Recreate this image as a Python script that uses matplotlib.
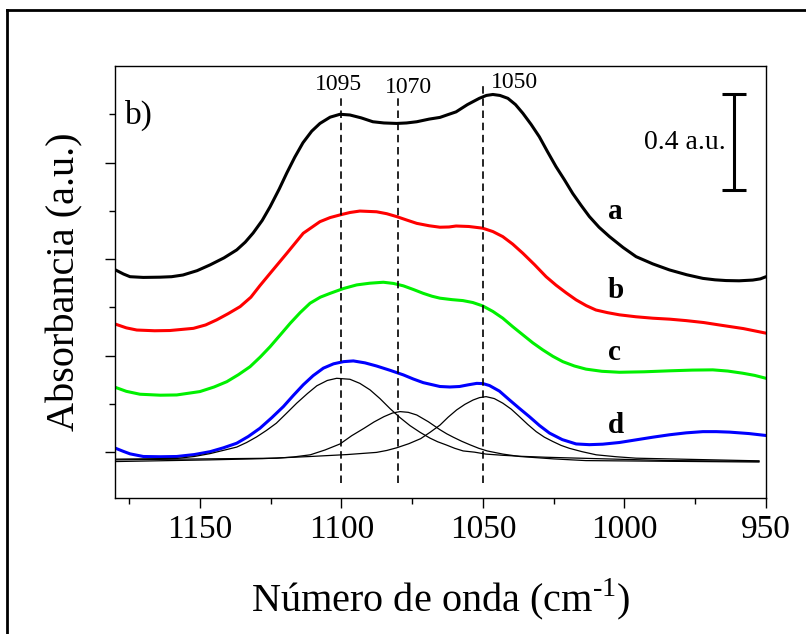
import matplotlib
matplotlib.use("Agg")
import matplotlib.pyplot as plt
from matplotlib.lines import Line2D

# FTIR spectra, a.u. (offset stacked as in the reference)
wn_a = [1180, 1177, 1174.7, 1170, 1164.1, 1160, 1156.0, 1151, 1146.4, 1141.5,
        1137.0, 1134, 1131.2, 1128, 1125.2, 1122, 1119.3, 1116.5, 1113.6, 1110.5,
        1107.6, 1104, 1100.5, 1097.0, 1093, 1088.9, 1085, 1080.5, 1077, 1073.4,
        1069, 1065.2, 1062.5, 1059.5, 1055.5, 1051.3, 1048.8, 1046.5, 1044, 1041.2,
        1038.5, 1035.9, 1033, 1030.1, 1027.2, 1024.2, 1021.2, 1018.3, 1015.3, 1012.4,
        1009, 1005.3, 1000.5, 995.9, 990, 984.1, 978, 972.3, 968, 964.1,
        959.5, 954.7, 952, 950]
abs_a = [0.756, 0.738, 0.727, 0.724, 0.725, 0.727, 0.734, 0.752, 0.776, 0.805,
         0.838, 0.870, 0.908, 0.960, 1.017, 1.090, 1.157, 1.222, 1.282, 1.330,
         1.362, 1.388, 1.400, 1.397, 1.385, 1.369, 1.364, 1.362, 1.364, 1.369,
         1.380, 1.387, 1.398, 1.410, 1.440, 1.466, 1.478, 1.482, 1.478, 1.466,
         1.440, 1.404, 1.358, 1.307, 1.245, 1.183, 1.128, 1.072, 1.022, 0.976,
         0.932, 0.893, 0.848, 0.810, 0.780, 0.755, 0.735, 0.720, 0.714, 0.711,
         0.710, 0.713, 0.718, 0.727]

wn_b = [1180, 1176, 1172.3, 1166, 1160.6, 1152.3, 1148, 1144.1, 1140, 1135.8,
        1132, 1128.8, 1125.2, 1119.3, 1113.5, 1107.6, 1104, 1100.5, 1097, 1093.5,
        1087.6, 1084, 1080.5, 1077, 1073.4, 1069, 1065.2, 1062, 1059.5, 1055,
        1050.1, 1046.5, 1043.0, 1039.5, 1035.9, 1031.8, 1027.7, 1024.2, 1020.6, 1017.1,
        1013.5, 1010.1, 1006, 1001.8, 996, 990.0, 984, 978.2, 972, 966.5,
        958, 950]
abs_b = [0.531, 0.515, 0.506, 0.503, 0.504, 0.513, 0.527, 0.548, 0.574, 0.603,
         0.642, 0.690, 0.741, 0.824, 0.907, 0.955, 0.972, 0.983, 0.993, 0.999,
         0.996, 0.988, 0.976, 0.962, 0.948, 0.938, 0.932, 0.933, 0.937, 0.935,
         0.928, 0.914, 0.893, 0.862, 0.824, 0.777, 0.727, 0.692, 0.660, 0.631,
         0.607, 0.589, 0.578, 0.569, 0.561, 0.555, 0.551, 0.545, 0.537, 0.527,
         0.512, 0.493]

wn_c = [1180, 1176, 1171.2, 1164, 1158.2, 1150.0, 1145, 1140.5, 1136.4, 1132.3,
        1128.7, 1125.2, 1121.6, 1118.1, 1114.6, 1111.1, 1107.5, 1104.0, 1099.3, 1094.6,
        1090, 1085.2, 1081.6, 1078.1, 1074.6, 1071.1, 1068, 1065.2, 1061, 1057.1,
        1053.6, 1050.1, 1046.5, 1043.0, 1039.5, 1035.9, 1032.4, 1028.9, 1025.3, 1021.8,
        1017.7, 1013.6, 1008, 1001.8, 993, 984.1, 976, 968.8, 963.5, 958.2,
        954, 950]
abs_c = [0.269, 0.252, 0.240, 0.236, 0.237, 0.251, 0.270, 0.292, 0.321, 0.354,
         0.394, 0.437, 0.486, 0.534, 0.578, 0.617, 0.642, 0.658, 0.678, 0.693,
         0.700, 0.704, 0.699, 0.689, 0.674, 0.658, 0.646, 0.638, 0.632, 0.628,
         0.620, 0.606, 0.583, 0.555, 0.520, 0.486, 0.453, 0.424, 0.397, 0.375,
         0.357, 0.344, 0.335, 0.331, 0.333, 0.337, 0.340, 0.341, 0.336, 0.327,
         0.318, 0.306]

wn_d = [1180, 1177, 1174.7, 1170.0, 1164, 1158.2, 1152, 1146.4, 1141.7, 1137.0,
        1132.9, 1128.8, 1124.6, 1120.5, 1117, 1113.5, 1110, 1106.4, 1102.8, 1099.3,
        1095.8, 1091.7, 1087.6, 1082.8, 1078.1, 1074.6, 1071.1, 1065.2, 1061.7, 1058.3,
        1055.2, 1052.2, 1050, 1047.7, 1044.2, 1040.7, 1037.2, 1033.6, 1030, 1026.5,
        1022, 1017.1, 1012.4, 1007.7, 1001.8, 995.9, 990, 984.1, 978.2, 972.3,
        967.6, 962.9, 956, 950]
abs_d = [0.017, 0.003, -0.007, -0.018, -0.019, -0.018, -0.010, 0.002, 0.018, 0.037,
         0.065, 0.099, 0.143, 0.189, 0.235, 0.279, 0.317, 0.348, 0.366, 0.375,
         0.378, 0.370, 0.357, 0.339, 0.320, 0.303, 0.288, 0.272, 0.270, 0.272,
         0.279, 0.285, 0.284, 0.276, 0.253, 0.217, 0.182, 0.147, 0.110, 0.079,
         0.052, 0.034, 0.031, 0.033, 0.040, 0.051, 0.062, 0.072, 0.080, 0.085,
         0.085, 0.083, 0.077, 0.069]

# deconvoluted components of spectrum d
wn_p1 = [1180, 1158, 1152, 1146.4, 1141.5, 1137, 1133.5, 1130, 1126.5, 1123,
         1119.5, 1115.8, 1112, 1108.7, 1105, 1101.7, 1097, 1093.5, 1089.9, 1086.4,
         1082.8, 1079.3, 1075.8, 1072.2, 1068.7, 1066, 1063, 1060, 1057, 1053,
         1049, 1043, 1037, 1028, 1019, 984, 952.5]
abs_p1 = [-0.029, -0.026, -0.018, -0.006, 0.008, 0.021, 0.040, 0.063, 0.090, 0.120,
          0.160, 0.203, 0.243, 0.275, 0.297, 0.306, 0.302, 0.285, 0.258, 0.222,
          0.180, 0.143, 0.110, 0.082, 0.058, 0.043, 0.030, 0.016, 0.005, 0.000,
          -0.008, -0.013, -0.017, -0.021, -0.024, -0.035, -0.038]

wn_p2 = [1180, 1158, 1122.9, 1117, 1111, 1105.8, 1100.5, 1096.4, 1092, 1088.5,
         1085, 1082, 1079.3, 1076.4, 1073.4, 1069.3, 1065.2, 1062.8, 1060.5, 1057.5,
         1054.5, 1051.5, 1048.5, 1043, 1037, 1025, 1013.6, 952.5]
abs_p2 = [-0.032, -0.029, -0.025, -0.020, -0.011, 0.009, 0.034, 0.068, 0.099, 0.125,
          0.147, 0.162, 0.168, 0.165, 0.154, 0.126, 0.093, 0.076, 0.062, 0.045,
          0.030, 0.016, 0.005, -0.008, -0.018, -0.028, -0.035, -0.041]

wn_p3 = [1180, 1146.4, 1128, 1111, 1098, 1087.6, 1084, 1080.5, 1076.2, 1072,
         1068.6, 1065.2, 1062.3, 1059.3, 1056.4, 1053.5, 1051.2, 1048.9, 1046, 1043,
         1040, 1037.2, 1034.2, 1031.2, 1028.3, 1025.3, 1022.4, 1019.5, 1015, 1010,
         1003, 995.9, 952.5]
abs_p3 = [-0.039, -0.032, -0.027, -0.018, -0.010, -0.001, 0.007, 0.018, 0.035, 0.056,
          0.083, 0.112, 0.145, 0.175, 0.198, 0.216, 0.226, 0.230, 0.222, 0.203,
          0.178, 0.148, 0.115, 0.085, 0.062, 0.044, 0.028, 0.016, 0.002, -0.011,
          -0.019, -0.025, -0.036]

band_pos = [1100, 1080, 1050]
band_labels = ['1095', '1070', '1050']
curve_labels = ['a', 'b', 'c', 'd']
label_y = [0.966, 0.638, 0.382, 0.081]

plt.rcParams['font.family'] = ['Liberation Serif', 'DejaVu Serif']
plt.rcParams['mathtext.fontset'] = 'custom'
plt.rcParams['mathtext.rm'] = 'Liberation Serif'

fig = plt.figure(figsize=(8.06, 6.34), dpi=100)
ax = fig.add_axes([0.1427, 0.2145, 0.8077, 0.6814])

lw = 2.2
kw = dict(lw=lw, solid_joinstyle='round', solid_capstyle='round')
ax.plot(wn_a, abs_a, color='black', **kw)
ax.plot(wn_b, abs_b, color='#ff0000', **kw)
ax.plot(wn_c, abs_c, color='#00f000', **kw)
ax.plot(wn_d, abs_d, color='#0000ff', **kw)
for wn, ab in [(wn_p1, abs_p1), (wn_p2, abs_p2), (wn_p3, abs_p3)]:
    ax.plot(wn, ab, color='black', lw=0.9, solid_joinstyle='round')

# band positions
tops = [1.47, 1.47, 1.52]
for xb, top in zip(band_pos, tops):
    ax.plot([xb, xb], [-0.127, top], color='black', lw=1.2, ls=(0, (4.5, 2.8)))
ax.text(1101.2, 1.50, band_labels[0], ha='center', va='baseline', fontsize=17)
ax.text(1076.4, 1.487, band_labels[1], ha='center', va='baseline', fontsize=17)
ax.text(1047.1, 1.507, band_labels[2], ha='left', va='baseline', fontsize=17)

for lab, yl in zip(curve_labels, label_y):
    ax.text(1005.9, yl, lab, ha='left', va='baseline', fontsize=21, fontweight='bold')

ax.text(1176.5, 1.362, 'b)', ha='left', va='baseline', fontsize=24)

# 0.4 a.u. scale bar
ax.errorbar([961.4], [1.285], yerr=[0.2], fmt='none', ecolor='black',
            elinewidth=2.2, capsize=8.5, capthick=2.2)
ax.text(964.1, 1.282, '0.4 a.u.', ha='right', va='center', fontsize=20)

ax.set_xlim(1180, 950)
ax.set_ylim(-0.19, 1.6)
ax.set_xticks([1150, 1100, 1050, 1000, 950])
ax.set_xticks([1175, 1125, 1075, 1025, 975], minor=True)
ax.set_yticks([0, 0.4, 0.8, 1.2])
ax.set_yticks([0.2, 0.6, 1.0, 1.4], minor=True)
ax.set_yticklabels([])
ax.tick_params(which='major', direction='out', length=7, width=1, labelsize=24)
ax.tick_params(which='minor', direction='out', length=4, width=1)
ax.tick_params(axis='x', pad=5)
for s in ax.spines.values():
    s.set_linewidth(1)

ax.set_xlabel('Número de onda (cm$^{\u2010 1}$)', fontsize=29, labelpad=22)
ax.set_ylabel('Absorbancia (a.u.)', fontsize=29, labelpad=12)

# outer frame (left and top edges only)
fig.add_artist(Line2D([0.0087, 0.0087], [0, 0.984], color='black', lw=2))
fig.add_artist(Line2D([0.0087, 1], [0.984, 0.984], color='black', lw=2))

fig.savefig('out.png', dpi=100)
